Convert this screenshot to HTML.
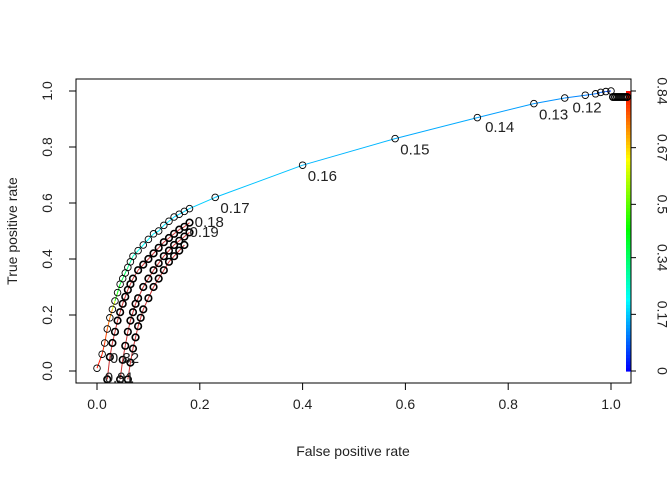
<!DOCTYPE html>
<html><head><meta charset="utf-8"><style>
body{margin:0;background:#fff;}
svg{display:block;font-family:"Liberation Sans",Arial,sans-serif;}
</style></head><body>
<svg id="c" width="672" height="480"></svg>
<script>
const mainFpr=[0.00,0.01,0.015,0.02,0.025,0.03,0.035,0.04,0.045,0.05,0.055,0.06,0.065,0.07,0.08,0.09,0.10,0.11,0.12,0.13,0.14,0.15,0.16,0.17,0.18,0.23,0.40,0.58,0.74,0.85,0.91,0.95,0.97,0.98,0.99,1.00];
const mainTpr=[0.01,0.06,0.10,0.15,0.19,0.22,0.25,0.28,0.31,0.33,0.35,0.37,0.39,0.41,0.43,0.45,0.47,0.49,0.50,0.52,0.535,0.55,0.56,0.57,0.58,0.62,0.735,0.83,0.905,0.955,0.975,0.985,0.99,0.995,0.998,1.00];
const mainCut=[0.84,0.82,0.80,0.78,0.75,0.72,0.60,0.45,0.40,0.37,0.35,0.33,0.30,0.27,0.24,0.22,0.21,0.20,0.195,0.19,0.185,0.18,0.178,0.175,0.172,0.17,0.16,0.15,0.14,0.13,0.12,0.11,0.10,0.09,0.08,0.05];
const c2Fpr=[0.02,0.025,0.03,0.035,0.04,0.045,0.05,0.055,0.06,0.065,0.07,0.08,0.09,0.10,0.11,0.12,0.13,0.14,0.15,0.16,0.17,0.18];
const c2Tpr=[-0.03,0.05,0.10,0.14,0.18,0.21,0.24,0.265,0.29,0.31,0.33,0.36,0.38,0.40,0.42,0.44,0.46,0.475,0.49,0.505,0.515,0.53];
const c3Fpr=[0.045,0.05,0.055,0.06,0.065,0.07,0.075,0.08,0.09,0.10,0.11,0.12,0.13,0.14,0.15,0.16,0.17,0.18];
const c3Tpr=[-0.03,0.04,0.09,0.14,0.18,0.21,0.24,0.26,0.30,0.33,0.36,0.385,0.41,0.43,0.45,0.465,0.48,0.495];
const c4Fpr=[0.06,0.065,0.07,0.075,0.08,0.085,0.09,0.10,0.11,0.12,0.13,0.14,0.15,0.16,0.17];
const c4Tpr=[-0.03,0.03,0.08,0.12,0.16,0.19,0.22,0.26,0.30,0.33,0.36,0.39,0.41,0.43,0.45];
const labelText=["0.17","0.16","0.15","0.14","0.13","0.12","0.18","0.19","0.82","0.91"];
const labelFpr=[0.24,0.41,0.59,0.755,0.86,0.925,0.19,0.18,0.025,0.015];
const labelTpr=[0.585,0.70,0.795,0.875,0.92,0.945,0.535,0.50,0.05,-0.02];
const xTicks=[0,0.2,0.4,0.6,0.8,1.0];
const yTicks=[0,0.2,0.4,0.6,0.8,1.0];
const cbTicks=[0,0.17,0.34,0.5,0.67,0.84];

const svg=document.getElementById('c');
const NS="http://www.w3.org/2000/svg";
const X=v=>97+v*514, Y=v=>371-v*280, CB=v=>371-v/0.84*280;
const col=c=>`hsl(${240*(1-Math.min(c,0.84)/0.84)},100%,50%)`;
function mk(t,a,p){const e=document.createElementNS(NS,t);for(const k in a)e.setAttribute(k,a[k]);(p||svg).appendChild(e);return e;}

const box=mk('rect',{x:76,y:79,width:555,height:304,fill:'none',stroke:'#000'});



for(let i=0;i<84;i++){const r=mk('rect',{x:626,y:CB((i+1)/100),width:5,height:CB(i/100)-CB((i+1)/100)+0.6,fill:col(i/100)});

}
mk('line',{x1:631,y1:CB(0),x2:631,y2:CB(0.84),stroke:'#000'});
cbTicks.forEach(t=>{mk('line',{x1:631,x2:636,y1:CB(t),y2:CB(t),stroke:'#000'});
const tx=mk('text',{x:661,y:CB(t),'font-size':14,'text-anchor':'middle',transform:`rotate(90 661 ${CB(t)})`,'dominant-baseline':'middle',fill:'#222'});tx.textContent=t;

});

mk('line',{x1:X(0),x2:X(1),y1:383,y2:383,stroke:'#000'});
xTicks.forEach(t=>{mk('line',{x1:X(t),x2:X(t),y1:383,y2:390,stroke:'#000'});
const tx=mk('text',{x:X(t),y:409,'font-size':14,'text-anchor':'middle',fill:'#222'});tx.textContent=t===0?'0.0':t===1?'1.0':t;

});
mk('line',{x1:76,x2:76,y1:Y(0),y2:Y(1),stroke:'#000'});
yTicks.forEach(t=>{mk('line',{x1:69,x2:76,y1:Y(t),y2:Y(t),stroke:'#000'});
const tx=mk('text',{x:52,y:Y(t),'font-size':14,'text-anchor':'middle',transform:`rotate(-90 52 ${Y(t)})`,fill:'#222'});tx.textContent=t===0?'0.0':t===1?'1.0':t;

});
const xt=mk('text',{x:353,y:456,'font-size':14,'text-anchor':'middle',fill:'#222'});xt.textContent='False positive rate';


const yt=mk('text',{x:17,y:231,'font-size':14,'text-anchor':'middle',transform:'rotate(-90 17 231)',fill:'#222'});yt.textContent='True positive rate';



function curve(f,t,name,cuts,sw){
  const g=mk('g',{});
  
  
  for(let i=1;i<f.length;i++){mk('line',{x1:X(f[i-1]),y1:Y(t[i-1]),x2:X(f[i]),y2:Y(t[i]),stroke:cuts?col(cuts[i]):'#c33','stroke-width':1},g);}
  for(let i=0;i<f.length;i++){const c=mk('circle',{cx:X(f[i]),cy:Y(t[i]),r:3.3,fill:'none',stroke:'#000','stroke-width':sw},g);
    
    }
}
curve(c4Fpr,c4Tpr,'roc-curve-4',null,1.6);
curve(c3Fpr,c3Tpr,'roc-curve-3',null,1.6);
curve(c2Fpr,c2Tpr,'roc-curve-2',null,1.6);
curve(mainFpr,mainTpr,'roc-curve-main',mainCut,0.9);
for(let i=0;i<8;i++){const c=mk('circle',{cx:613+i*2,cy:97,r:3.3,fill:'none',stroke:'#000','stroke-width':1.4});

}

labelText.forEach((s,i)=>{const tx=mk('text',{x:X(labelFpr[i]),y:Y(labelTpr[i])+6,'font-size':15,fill:'#222'});tx.textContent=s;

});
</script>
</body></html>
